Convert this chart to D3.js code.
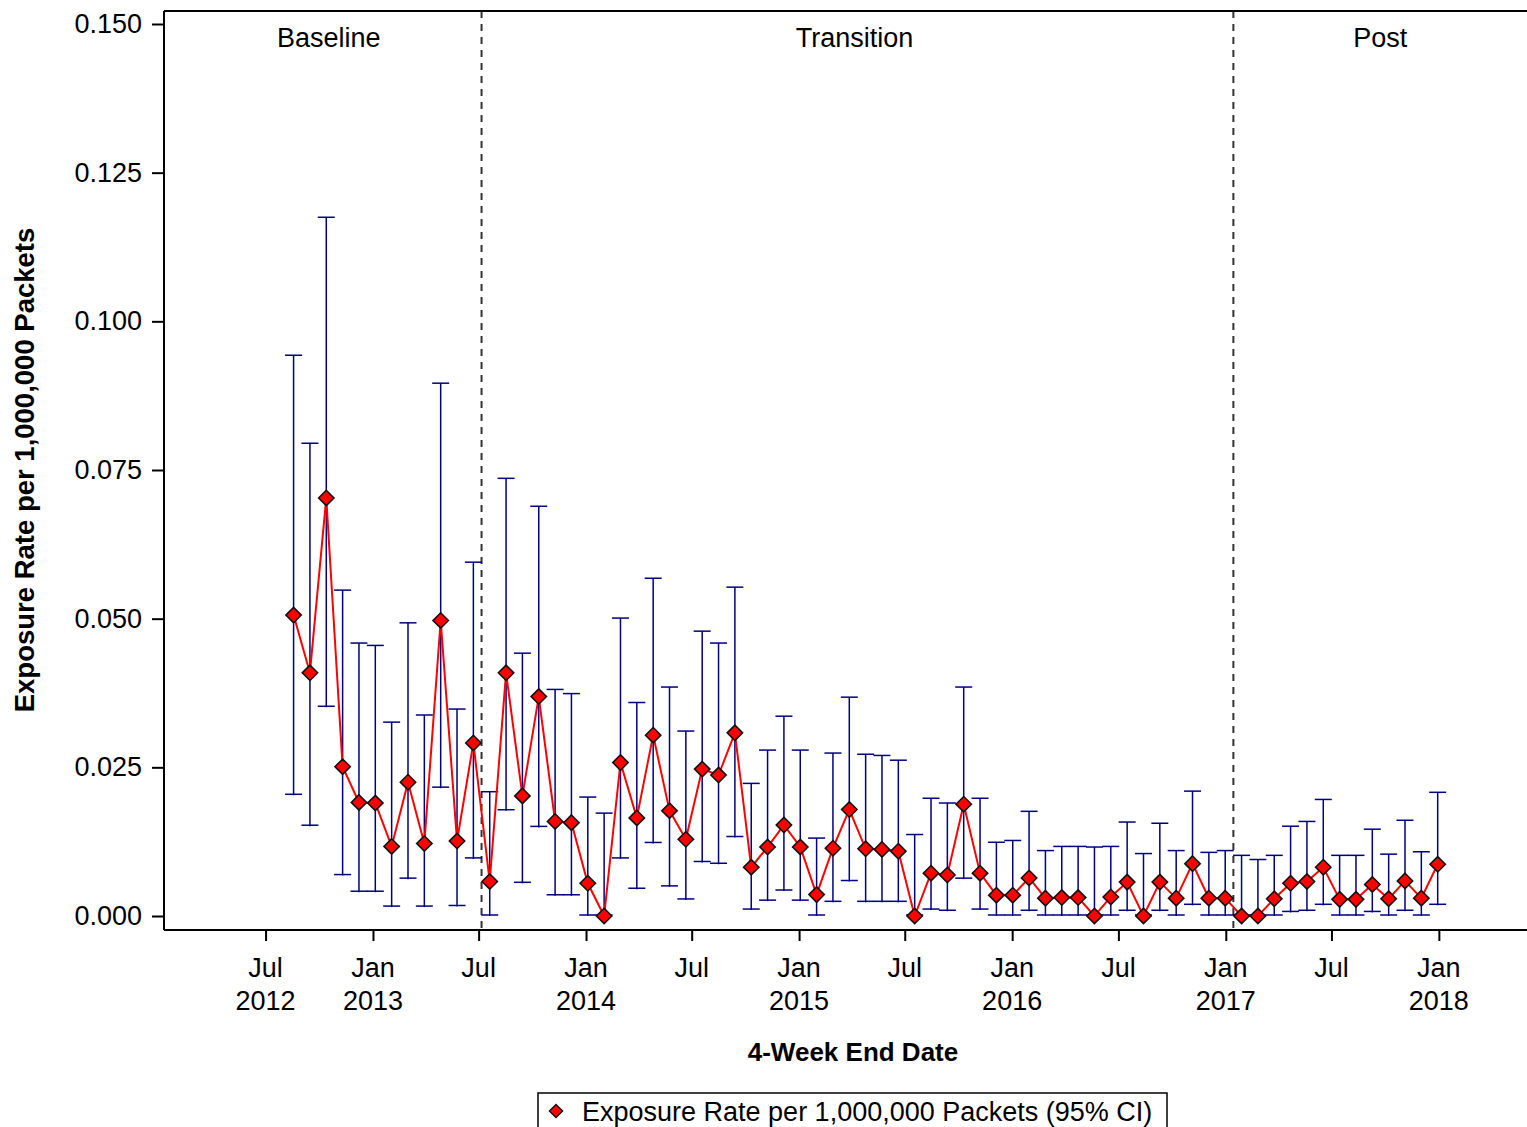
<!DOCTYPE html>
<html>
<head>
<meta charset="utf-8">
<script src="https://cdn.jsdelivr.net/npm/d3@7"></script>
<style>
  html, body { margin: 0; padding: 0; background: #fff; }
  svg { display: block; font-family: "Liberation Sans", Arial, Helvetica, sans-serif; }
</style>
</head>
<body>
<svg id="chart" width="1527" height="1127"></svg>
<script>
// 4-week period end dates
const endDates = [
  "2012-08-18","2012-09-15","2012-10-13","2012-11-10","2012-12-08","2013-01-05","2013-02-02",
  "2013-03-02","2013-03-30","2013-04-27","2013-05-25","2013-06-22","2013-07-20","2013-08-17",
  "2013-09-14","2013-10-12","2013-11-09","2013-12-07","2014-01-04","2014-02-01","2014-03-01",
  "2014-03-29","2014-04-26","2014-05-24","2014-06-21","2014-07-19","2014-08-16","2014-09-13",
  "2014-10-11","2014-11-08","2014-12-06","2015-01-03","2015-01-31","2015-02-28","2015-03-28",
  "2015-04-25","2015-05-23","2015-06-20","2015-07-18","2015-08-15","2015-09-12","2015-10-10",
  "2015-11-07","2015-12-05","2016-01-02","2016-01-30","2016-02-27","2016-03-26","2016-04-23",
  "2016-05-21","2016-06-18","2016-07-16","2016-08-13","2016-09-10","2016-10-08","2016-11-05",
  "2016-12-03","2016-12-31","2017-01-28","2017-02-25","2017-03-25","2017-04-22","2017-05-20",
  "2017-06-17","2017-07-15","2017-08-12","2017-09-09","2017-10-07","2017-11-04","2017-12-02",
  "2017-12-30"
];

// Exposure rate per 1,000,000 packets
const rate = [
  0.0506, 0.0409, 0.0703, 0.0251, 0.0191, 0.0190, 0.0117, 0.0225, 0.0122, 0.0497,
  0.0126, 0.0291, 0.0058, 0.0409, 0.0202, 0.0369, 0.0159, 0.0157, 0.0055, 0.0000,
  0.0258, 0.0165, 0.0304, 0.0177, 0.0129, 0.0247, 0.0237, 0.0308, 0.0082, 0.0116,
  0.0153, 0.0116, 0.0036, 0.0114, 0.0179, 0.0113, 0.0112, 0.0109, 0.0000, 0.0072,
  0.0069, 0.0188, 0.0072, 0.0035, 0.0035, 0.0064, 0.0030, 0.0031, 0.0031, 0.0000,
  0.0032, 0.0057, 0.0000, 0.0057, 0.0030, 0.0088, 0.0030, 0.0030, 0.0000, 0.0000,
  0.0029, 0.0055, 0.0058, 0.0082, 0.0028, 0.0028, 0.0053, 0.0029, 0.0059, 0.0030,
  0.0087
];

// Upper 95% confidence limit
const upper = [
  0.0943, 0.0795, 0.1175, 0.0548, 0.0459, 0.0455, 0.0326, 0.0493, 0.0338, 0.0896,
  0.0348, 0.0595, 0.0209, 0.0736, 0.0442, 0.0689, 0.0381, 0.0374, 0.0200, 0.0173,
  0.0501, 0.0359, 0.0568, 0.0385, 0.0311, 0.0479, 0.0459, 0.0553, 0.0223, 0.0279,
  0.0336, 0.0279, 0.0131, 0.0274, 0.0368, 0.0272, 0.0270, 0.0262, 0.0137, 0.0198,
  0.0190, 0.0385, 0.0198, 0.0124, 0.0127, 0.0176, 0.0110, 0.0117, 0.0117, 0.0116,
  0.0117, 0.0158, 0.0105, 0.0156, 0.0110, 0.0210, 0.0107, 0.0110, 0.0102, 0.0095,
  0.0102, 0.0151, 0.0159, 0.0196, 0.0102, 0.0102, 0.0146, 0.0104, 0.0161, 0.0108,
  0.0208
];

// Lower 95% confidence limit
const lower = [
  0.0203, 0.0151, 0.0351, 0.0068, 0.0040, 0.0040, 0.0015, 0.0062, 0.0015, 0.0215,
  0.0016, 0.0096, 0.0000, 0.0177, 0.0055, 0.0149, 0.0034, 0.0034, 0.0000, 0.0000,
  0.0096, 0.0045, 0.0122, 0.0049, 0.0027, 0.0090, 0.0087, 0.0132, 0.0010, 0.0025,
  0.0042, 0.0025, 0.0000, 0.0023, 0.0058, 0.0023, 0.0023, 0.0023, 0.0000, 0.0010,
  0.0008, 0.0062, 0.0010, 0.0000, 0.0000, 0.0008, 0.0000, 0.0000, 0.0000, 0.0000,
  0.0000, 0.0008, 0.0000, 0.0008, 0.0000, 0.0018, 0.0000, 0.0000, 0.0000, 0.0000,
  0.0000, 0.0006, 0.0008, 0.0018, 0.0000, 0.0000, 0.0006, 0.0000, 0.0008, 0.0000,
  0.0018
];

// Study phases and the dates separating them
const phases = ["Baseline", "Transition", "Post"];
const phaseBreaks = ["2013-07-06", "2017-01-14"];

const yTicks = [0, 0.025, 0.05, 0.075, 0.1, 0.125, 0.15];
const xAxisTitle = "4-Week End Date";
const yAxisTitle = "Exposure Rate per 1,000,000 Packets";
const legendLabel = "Exposure Rate per 1,000,000 Packets (95% CI)";

const parse = d3.utcParse("%Y-%m-%d");
const data = endDates.map((d, i) => ({
  date: parse(d), rate: rate[i], lo: lower[i], hi: upper[i]
}));

const svg = d3.select("#chart");
const frame = { left: 164, right: 1527, top: 11, bottom: 930 };

const x = d3.scaleUtc()
  .domain([parse("2012-01-09"), parse("2018-06-01")])
  .range([frame.left, frame.right]);
const y = d3.scaleLinear().domain([0, 0.15]).range([916, 24]);

const navy = "#000080";

// Phase separators
const breaks = phaseBreaks.map(parse);
svg.append("g").selectAll("line").data(breaks).join("line")
  .attr("x1", d => x(d)).attr("x2", d => x(d))
  .attr("y1", frame.top).attr("y2", frame.bottom)
  .attr("stroke", "#333").attr("stroke-width", 2)
  .attr("stroke-dasharray", "7,6");

// Phase labels centred in their spans
const bounds = [x.domain()[0], ...breaks, x.domain()[1]];
const labelShift = [6, -3, 0];
svg.append("g").selectAll("text").data(phases).join("text")
  .attr("x", (d, i) => (x(bounds[i]) + x(bounds[i + 1])) / 2 + labelShift[i])
  .attr("y", 47)
  .attr("text-anchor", "middle")
  .attr("font-size", 27)
  .attr("fill", "#000")
  .text(d => d);

// Confidence-interval bars
const capW = 8.5;
const bars = svg.append("g").attr("stroke", navy).attr("stroke-width", 1.5).attr("fill", "none");
bars.selectAll("line.stem").data(data).join("line").attr("class", "stem")
  .attr("x1", d => x(d.date)).attr("x2", d => x(d.date))
  .attr("y1", d => y(d.lo)).attr("y2", d => y(d.hi));
bars.selectAll("line.capHi").data(data).join("line").attr("class", "capHi")
  .attr("x1", d => x(d.date) - capW).attr("x2", d => x(d.date) + capW)
  .attr("y1", d => y(d.hi)).attr("y2", d => y(d.hi));
bars.selectAll("line.capLo").data(data).join("line").attr("class", "capLo")
  .attr("x1", d => x(d.date) - capW).attr("x2", d => x(d.date) + capW)
  .attr("y1", d => y(d.lo) - 1).attr("y2", d => y(d.lo) - 1);

// Rate series line
svg.append("path").datum(data)
  .attr("fill", "none").attr("stroke", "#ff0000").attr("stroke-width", 2)
  .attr("d", d3.line().x(d => x(d.date)).y(d => y(d.rate)));

// Diamond markers
const diamond = d3.symbol().type(d3.symbolDiamond2).size(150);
svg.append("g").selectAll("path").data(data).join("path")
  .attr("transform", d => `translate(${x(d.date)},${y(d.rate)})`)
  .attr("d", diamond)
  .attr("fill", "#ff0000").attr("stroke", "#111").attr("stroke-width", 1.6);

// Frame lines
const frameG = svg.append("g").attr("stroke", "#000").attr("stroke-width", 2);
frameG.append("line").attr("x1", frame.left).attr("x2", frame.right)
  .attr("y1", frame.top).attr("y2", frame.top);
frameG.append("line").attr("x1", frame.left).attr("x2", frame.right)
  .attr("y1", frame.bottom).attr("y2", frame.bottom);
frameG.append("line").attr("x1", frame.left).attr("x2", frame.left)
  .attr("y1", frame.top).attr("y2", frame.bottom);

// Y axis
const yAxis = svg.append("g")
  .attr("transform", `translate(${frame.left},0)`)
  .call(d3.axisLeft(y).tickValues(yTicks).tickFormat(d3.format(".3f")).tickSize(12).tickPadding(10));
yAxis.select(".domain").remove();
yAxis.selectAll("line").attr("stroke", "#000").attr("stroke-width", 2);
yAxis.selectAll("text").attr("font-size", 27).attr("fill", "#000")
  .attr("font-family", "'Liberation Sans', Arial, sans-serif");

// X axis: month on first line, year for January and the first tick
const xTicks = x.ticks(d3.utcMonth.every(6));
const xAxis = svg.append("g")
  .attr("transform", `translate(0,${frame.bottom})`)
  .call(d3.axisBottom(x).tickValues(xTicks).tickSize(11).tickFormat(""));
xAxis.select(".domain").remove();
xAxis.selectAll("line").attr("stroke", "#000").attr("stroke-width", 2);
const xl = svg.append("g").selectAll("text").data(xTicks).join("text")
  .attr("text-anchor", "middle")
  .attr("font-size", 27)
  .attr("fill", "#000");
xl.append("tspan").attr("x", d => x(d)).attr("y", 977).text(d => d3.utcFormat("%b")(d));
xl.filter((d, i) => i === 0 || d.getUTCMonth() === 0)
  .append("tspan").attr("x", d => x(d)).attr("y", 1010).text(d => d3.utcFormat("%Y")(d));

// Axis titles
svg.append("text")
  .attr("x", 853).attr("y", 1061)
  .attr("text-anchor", "middle").attr("font-size", 26).attr("font-weight", "bold")
  .text(xAxisTitle);
svg.append("text")
  .attr("transform", "translate(34,470) rotate(-90)")
  .attr("text-anchor", "middle").attr("font-size", 27.5).attr("font-weight", "bold")
  .text(yAxisTitle);

// Legend
const legend = svg.append("g").attr("transform", "translate(538,1093)");
legend.append("rect").attr("width", 629).attr("height", 42)
  .attr("fill", "#fff").attr("stroke", "#000").attr("stroke-width", 1.5);
legend.append("path").attr("transform", "translate(18,18)")
  .attr("d", d3.symbol().type(d3.symbolDiamond2).size(110))
  .attr("fill", "#ff0000").attr("stroke", "#111").attr("stroke-width", 1.4);
legend.append("text").attr("x", 44).attr("y", 28)
  .attr("font-size", 27).attr("fill", "#000").text(legendLabel);
</script>
</body>
</html>
